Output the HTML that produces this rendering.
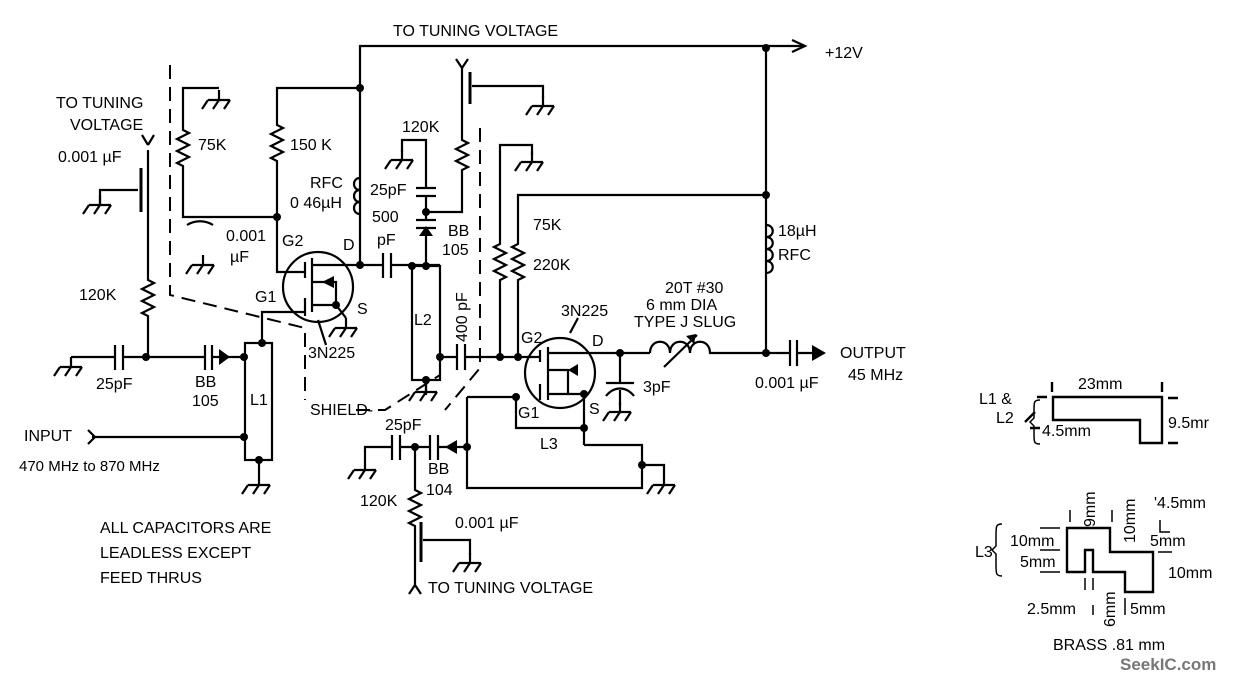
<!DOCTYPE html>
<html><head><meta charset="utf-8"><style>
html,body{margin:0;padding:0;background:#fff}
svg{display:block}
text{font-family:"Liberation Sans",sans-serif;font-size:16px;fill:#000}
</style></head><body>
<svg width="1238" height="680" viewBox="0 0 1238 680" xmlns="http://www.w3.org/2000/svg">
<defs>
<g id="g"><path d="M0,-10V0M-11,0H11M-11,0l-6,9M0,0l-6,9M11,0l-6,9" stroke="#000" stroke-width="2.2" fill="none"/></g>
</defs>
<g stroke="#000" stroke-width="2.2" fill="none">
<path d="M360,265V46H805"/>
<path d="M792,40l13,6l-13,6"/>
<path d="M766,46V352"/>
<path d="M360,88H277V125l6,3l-12,6l12,6l-12,6l12,6l-12,6l6,3V217"/>
<path d="M360,178c-8,0 -8,12 0,12c-8,0 -8,12 0,12c-8,0 -8,12 0,12"/>
<path d="M219,88H183V130l6,3l-12,6l12,6l-12,6l12,6l-12,6l6,3V217H277V272H305"/>
<circle cx="318" cy="287" r="35"/>
<path d="M305,262V278M305,298V316M312,258V312M312,265H360M312,305H336L346,318M312,282H336V305"/>
<path d="M305,312H262V343"/>
<path d="M318,320L326,345"/>
<path d="M148,150V280l6,3l-12,6l12,6l-12,6l12,6l-12,6l6,3V357"/>
<path d="M148,145l-6,-10M148,145l6,-10" />
<path d="M141,168V212" stroke-width="3"/>
<path d="M138,190H100V205"/>
<path d="M71,357H115M123,357H205M212,357H244"/>
<path d="M115,345V370M123,345V370M205,345V370M212,345V370"/>
<rect x="245" y="343" width="27" height="117"/>
<path d="M92,437H245"/>
<path d="M88,430l7,7l-7,7"/>
<path d="M259,460V475"/>
<path d="M360,265H383M391,265H412H440"/>
<path d="M383,253V278M391,253V278"/>
<rect x="412" y="266" width="28" height="114"/>
<path d="M426,266V228M416,228H436M416,220H436M426,220V196M416,196H436M416,188H436M426,188V140H402V152"/>
<path d="M426,212H462V170l6,-3l-12,-6l12,-6l-12,-6l12,-6l-6,-3V100"/>
<path d="M470,72V104" stroke-width="3"/>
<path d="M462,68V100M462,68l-6,-9M462,68l6,-9"/>
<path d="M472,86H543V98"/>
<path d="M440,357H457M465,357H540"/>
<path d="M457,344V370M465,344V370"/>
<path d="M426,380V395"/>
<path d="M500,357V280l6,-3l-12,-6l12,-6l-12,-6l12,-6l-12,-6l6,-3V145H532V155"/>
<path d="M518,357V280l6,-3l-12,-6l12,-6l-12,-6l12,-6l-12,-6l6,-3V195H766"/>
<path d="M766,225c9,0 9,12 0,12c9,0 9,12 0,12c9,0 9,12 0,12c9,0 9,12 0,12"/>
<circle cx="560" cy="373" r="35"/>
<path d="M540,350V362M540,384V400M548,347V400M548,353H620H650M548,394H584M548,370H568V394M584,394V445"/>
<path d="M570,333L578,318"/>
<path d="M650,353c0,-15 20,-15 20,0c0,-15 20,-15 20,0c0,-15 20,-15 20,0H790"/>
<path d="M664,367L697,335"/>
<path d="M620,353V383M606,383H634M606,396c8,-10 20,-10 28,0M620,390V405"/>
<path d="M790,340V366M797,340V366M797,353H812"/>
<path d="M467,397H516V428H584M584,445H642V488H467V397"/>
<path d="M642,465H664V475"/>
<path d="M365,460V447H392M400,447H430M438,447H467"/>
<path d="M392,435V460M400,435V460M430,435V460M438,435V460"/>
<path d="M415,447V490l6,3l-12,6l12,6l-12,6l12,6l-12,6l6,3V585M415,585l-6,9M415,585l6,9"/>
<path d="M421,522V562" stroke-width="3"/>
<path d="M423,540H470V555"/>
<path d="M187,225c8,-5 18,-5 26,0"/>
</g>
<g fill="#000">
<path d="M219,349V365L230,357Z"/>
<path d="M419,236H433L426,226Z"/>
<path d="M445,447L457,440V454Z"/>
<path d="M322,282L334,276V288Z"/>
<path d="M568,370L578,364V376Z"/>
<path d="M696,334l-10,2l8,8Z"/>
<path d="M812,345L826,353L812,361Z"/>
<circle cx="360" cy="88" r="4"/><circle cx="766" cy="48" r="4"/><circle cx="766" cy="195" r="4"/><circle cx="766" cy="353" r="4"/>
<circle cx="277" cy="217" r="4"/><circle cx="360" cy="265" r="4"/><circle cx="336" cy="305" r="4"/>
<circle cx="262" cy="343" r="4"/><circle cx="146" cy="357" r="4"/><circle cx="244" cy="357" r="4"/><circle cx="244" cy="437" r="4"/><circle cx="259" cy="460" r="4"/>
<circle cx="412" cy="266" r="4"/><circle cx="426" cy="266" r="4"/><circle cx="426" cy="212" r="4"/><circle cx="440" cy="357" r="4"/><circle cx="426" cy="380" r="4"/>
<circle cx="500" cy="357" r="4"/><circle cx="518" cy="357" r="4"/><circle cx="620" cy="353" r="4"/><circle cx="584" cy="394" r="4"/>
<circle cx="516" cy="397" r="4"/><circle cx="584" cy="428" r="4"/><circle cx="642" cy="465" r="4"/><circle cx="467" cy="447" r="4"/><circle cx="415" cy="447" r="4"/>
</g>
<g>
<use href="#g" x="219" y="100"/><use href="#g" x="100" y="205"/><use href="#g" x="203" y="265"/><use href="#g" x="346" y="328"/>
<use href="#g" x="71" y="367"/><use href="#g" x="259" y="485"/><use href="#g" x="402" y="160"/><use href="#g" x="543" y="106"/>
<use href="#g" x="532" y="162"/><use href="#g" x="426" y="392"/><use href="#g" x="620" y="412"/><use href="#g" x="365" y="470"/>
<use href="#g" x="664" y="485"/><use href="#g" x="470" y="563"/>
</g>
<g stroke="#000" stroke-width="2" fill="none" stroke-dasharray="14,8">
<path d="M170,65V295L305,328V400"/>
<path d="M356,410H385L440,375"/>
<path d="M480,128V368L445,410"/>
</g>
<text x="393" y="36">TO TUNING VOLTAGE</text>
<text x="825" y="58">+12V</text>
<text x="56" y="108">TO TUNING</text>
<text x="70" y="130">VOLTAGE</text>
<text x="58" y="162">0.001 µF</text>
<text x="198" y="150">75K</text>
<text x="290" y="150">150 K</text>
<text x="310" y="188">RFC</text>
<text x="290" y="208">0 46µH</text>
<text x="226" y="241">0.001</text>
<text x="230" y="262">µF</text>
<text x="282" y="246">G2</text>
<text x="343" y="250">D</text>
<text x="255" y="302">G1</text>
<text x="357" y="314">S</text>
<text x="79" y="300">120K</text>
<text x="308" y="358">3N225</text>
<text x="402" y="132">120K</text>
<text x="370" y="195">25pF</text>
<text x="372" y="222">500</text>
<text x="377" y="245">pF</text>
<text x="448" y="236">BB</text>
<text x="442" y="255">105</text>
<text x="414" y="325">L2</text>
<text x="0" y="0" transform="translate(467,342) rotate(-90)">400 pF</text>
<text x="533" y="230">75K</text>
<text x="533" y="270">220K</text>
<text x="561" y="316">3N225</text>
<text x="521" y="343">G2</text>
<text x="592" y="346">D</text>
<text x="665" y="293">20T  #30</text>
<text x="646" y="310">6 mm DIA</text>
<text x="634" y="327">TYPE J SLUG</text>
<text x="778" y="236">18µH</text>
<text x="778" y="260">RFC</text>
<text x="643" y="392">3pF</text>
<text x="755" y="388">0.001 µF</text>
<text x="840" y="358">OUTPUT</text>
<text x="848" y="380">45 MHz</text>
<text x="96" y="389">25pF</text>
<text x="195" y="387">BB</text>
<text x="192" y="406">105</text>
<text x="250" y="405">L1</text>
<text x="24" y="441">INPUT</text>
<text x="19" y="471" style="font-size:15px">470 MHz  to 870 MHz</text>
<text x="310" y="415">SHIELD-</text>
<text x="518" y="418">G1</text>
<text x="589" y="414">S</text>
<text x="540" y="449">L3</text>
<text x="385" y="430">25pF</text>
<text x="428" y="474">BB</text>
<text x="426" y="495">104</text>
<text x="360" y="506">120K</text>
<text x="455" y="528">0.001 µF</text>
<text x="428" y="593">TO TUNING VOLTAGE</text>
<text x="100" y="533">ALL CAPACITORS ARE</text>
<text x="100" y="558">LEADLESS EXCEPT</text>
<text x="100" y="583">FEED THRUS</text>
<g stroke="#000" stroke-width="2.4" fill="none">
<path d="M1053,397H1162V443H1140V420H1053Z"/>
<path d="M1067,528H1110V552H1153V592H1125V572H1093V550H1085V572H1067Z"/>
<path d="M1052,382V392M1162,382V392M1037,397H1047M1168,398H1178M1168,443H1178M1035,412l-10,10M1030,428H1040"/>
<path d="M1040,400c-6,0 -6,2 -6,10v8l-4,4l4,4v8c0,8 0,10 6,10" stroke-width="1.5"/>
<path d="M1002,524c-6,0 -6,2 -6,12v10l-4,4l4,4v10c0,10 0,12 6,12" stroke-width="1.5"/>
<path d="M1040,528H1060M1040,550H1060M1040,572H1060M1070,510V522M1112,510V522M1160,520V532H1170M1158,552H1172M1085,578V590M1093,578V590M1093,605V615M1125,598V615" stroke-width="1.5"/>
</g>
<g style="font-size:15px">
<text x="1078" y="389">23mm</text>
<text x="979" y="404">L1 &amp;</text>
<text x="996" y="423">L2</text>
<text x="1042" y="436">4.5mm</text>
<text x="1168" y="428">9.5mr</text>
<text x="975" y="557">L3</text>
<text x="1010" y="546">10mm</text>
<text x="1020" y="567">5mm</text>
<text x="1154" y="508">'4.5mm</text>
<text x="1150" y="546">5mm</text>
<text x="1168" y="578">10mm</text>
<text x="1027" y="614">2.5mm</text>
<text x="1130" y="614">5mm</text>
<text x="0" y="0" transform="translate(1095,527) rotate(-90)">9mm</text>
<text x="0" y="0" transform="translate(1135,543) rotate(-90)">10mm</text>
<text x="0" y="0" transform="translate(1115,627) rotate(-90)">6mm</text>
<text x="1053" y="650">BRASS .81 mm</text>
</g>
<text x="1120" y="670" style="font-size:17px;font-weight:bold;fill:#777">SeekIC.com</text>
</svg>
</body></html>
